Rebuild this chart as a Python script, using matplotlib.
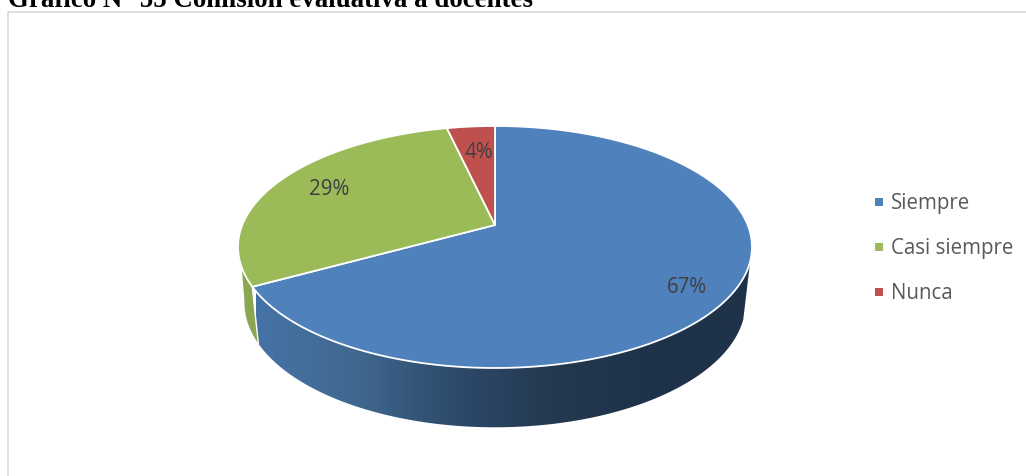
import numpy as np
import matplotlib
matplotlib.use("Agg")
import matplotlib.pyplot as plt
from matplotlib.colors import LinearSegmentedColormap
from matplotlib.patches import Polygon, Rectangle

# data
categories = ["Siempre", "Casi siempre", "Nunca"]
values = [67.0, 29.4, 3.6]
value_labels = ["67%", "29%", "4%"]
title = "Gráfico N° 55 Comisión evaluativa a docentes"

slice_colors = ["#4f81bd", "#9bbb59", "#c0504d"]
wall_green = "#8aa650"
wall_blue = ["#4672a6", "#40688f", "#2d4a6b", "#24394f", "#1e3249", "#1e3249"]
label_pos = [(687, 288), (329, 190), (479, 153)]

# pie geometry, in pixels
cx, cy = 495, 226
A, B, k = 252.7, 117.0, 0.1818
low_cy, low_sx, low_sy = 281.0, 0.975, 1.03


def top_rim(theta):
    # theta in degrees, clockwise from the top of the pie
    t = np.radians(theta)
    w = 1 + k * np.cos(t)
    return cx + A * np.sin(t) / w, cy - B * np.cos(t) / w


def low_rim(theta):
    x, y = top_rim(theta)
    return cx + (x - cx) * low_sx, low_cy + (y - cy) * low_sy


def wall(t0, t1, l0, l1):
    # outline of a wall piece: along the top rim, back along the lower rim
    xt, yt = top_rim(np.linspace(t0, t1, 150))
    xl, yl = low_rim(np.linspace(l1, l0, 150))
    return np.column_stack([np.r_[xt, xl], np.r_[yt, yl]])


fig = plt.figure(figsize=(10.26, 4.77), dpi=100)
ax = fig.add_axes([0, 0, 1, 1])

edges = np.concatenate([[0], np.cumsum(values) / np.sum(values) * 360])

# side wall, blue part has a left to right gradient
cmap = LinearSegmentedColormap.from_list("wall", wall_blue)
blue_wall = Polygon(wall(107, edges[1], 108, edges[1]), closed=True, facecolor="none", edgecolor="none")
ax.add_patch(blue_wall)
grad = np.linspace(0, 1, 256).reshape(1, -1)
im = ax.imshow(grad, cmap=cmap, extent=(256, 752, 440, 240), aspect="auto", zorder=2)
im.set_clip_path(blue_wall)
ax.add_patch(Polygon(wall(edges[1], 250, edges[1], 260), closed=True, facecolor=wall_green,
                     edgecolor="none", zorder=2))

ax.set_xlim(0, 1026)
ax.set_ylim(477, 0)
ax.axis("off")

# chart frame
ax.plot([8, 8, 1026], [477, 13, 13], color="#d9d9d9", lw=1.2, solid_joinstyle="miter")
ax.text(8, 7, title, family="Liberation Serif", weight="bold", fontsize=19.4,
        color="black", ha="left", va="baseline")

# seam between blue and green on the wall
ax.plot(*zip(top_rim(edges[1]), low_rim(edges[1])), color="white", lw=1.0, zorder=3)

# top faces
for i in range(len(values)):
    th = np.linspace(edges[i], edges[i + 1], 200)
    xs, ys = top_rim(th)
    pts = np.column_stack([np.r_[cx, xs], np.r_[cy, ys]])
    ax.add_patch(Polygon(pts, closed=True, facecolor=slice_colors[i], edgecolor="white",
                         lw=1.3, joinstyle="round", zorder=4))

for lab, pos in zip(value_labels, label_pos):
    ax.text(pos[0], pos[1], lab, family="Open Sans", fontsize=14.8, color="#404040",
            ha="center", va="center", zorder=5)

# legend
for i, name in enumerate(categories):
    y = 203 + 45 * i
    ax.add_patch(Rectangle((875, y - 4), 8, 8, facecolor=slice_colors[i], edgecolor="none"))
    ax.text(891, y + 0.5, name, family="Open Sans", fontsize=14.8, color="#595959",
            ha="left", va="center")

fig.savefig("out.png", dpi=100)
